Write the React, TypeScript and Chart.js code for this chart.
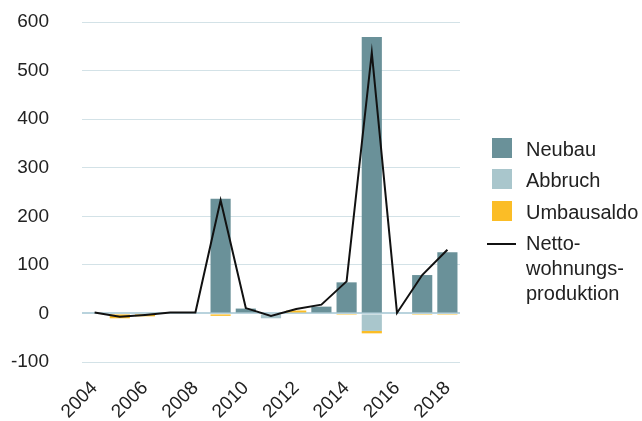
import React, { useEffect, useRef } from "react";
import { Chart, registerables } from "chart.js";

Chart.register(...registerables);

const years = ["2004", "2005", "2006", "2007", "2008", "2009", "2010", "2011", "2012", "2013", "2014", "2015", "2016", "2017", "2018"];
const neubau = [0, 0, 0, 0, 0, 236, 10, 0, 0, 14, 64, 569, 0, 79, 126];
const abbruch = [0, 0, 0, 0, 0, 0, 0, -10, 0, 0, 0, -36, 0, 0, 0];
const umbausaldo = [0, -10, -6, 0, 0, -5, 0, 0, 6, 0, -3, -5, 0, -3, -3];
const netto = [2, -7, -3, 2, 2, 233, 11, -5, 9, 18, 66, 537, 1, 79, 131];

const seriesNames = ["Neubau", "Abbruch", "Umbausaldo"];
const seriesColors = ["#6a9199", "#a9c6cc", "#fbbd26"];
const lineName = ["Netto-", "wohnungs-", "produktion"];
const lineColor = "#111111";

const yMin = -100;
const yMax = 600;
const yStep = 100;

const FONT = "'Liberation Sans', Arial, sans-serif";
const TEXT = "#222222";
const FS = 19;
const LEGEND_FS = 20;

export default function App() {
  const ref = useRef<HTMLCanvasElement | null>(null);

  useEffect(() => {
    if (!ref.current) return;
    const barSets = [neubau, abbruch, umbausaldo].map((d, i) => ({
      type: "bar" as const,
      label: seriesNames[i],
      data: d,
      backgroundColor: seriesColors[i],
      borderWidth: 0,
      stack: "bars",
      order: 1,
      barPercentage: 0.8,
      categoryPercentage: 1,
    }));
    const chart = new Chart(ref.current, {
      type: "bar",
      data: {
        labels: years,
        datasets: [
          ...barSets,
          {
            type: "line" as const,
            label: lineName.join(""),
            data: netto,
            borderColor: lineColor,
            borderWidth: 2,
            pointRadius: 0,
            tension: 0,
            fill: false,
            stack: "line",
            order: 0,
          } as any,
        ],
      },
      options: {
        animation: false,
        responsive: false,
        devicePixelRatio: 1,
        layout: { padding: { top: 22, right: 182, left: 0, bottom: 0 } },
        plugins: { legend: { display: false }, tooltip: { enabled: false } },
        scales: {
          x: {
            stacked: true,
            grid: { display: false },
            border: { display: false },
            ticks: {
              autoSkip: false,
              maxRotation: 45,
              minRotation: 45,
              padding: 7,
              color: TEXT,
              font: { family: FONT, size: FS },
              callback: (_v: any, i: number) => (i % 2 === 0 ? years[i] : ""),
            },
            afterFit: (s: any) => {
              s.height = 59;
            },
          },
          y: {
            stacked: true,
            min: yMin,
            max: yMax,
            border: { display: false },
            grid: {
              drawTicks: true,
              tickLength: 29,
              tickColor: "rgba(0,0,0,0)",
              color: (c: any) => (c.tick && c.tick.value === 0 ? "#b9d3dd" : "#d3e2e7"),
              lineWidth: (c: any) => (c.tick && c.tick.value === 0 ? 2 : 1),
            },
            ticks: {
              stepSize: yStep,
              padding: 4,
              color: TEXT,
              font: { family: FONT, size: FS },
            },
            afterFit: (s: any) => {
              s.width = 82;
            },
          },
        },
      },
    });
    return () => chart.destroy();
  }, []);

  const boxTops = [138, 169, 201];
  return (
    <div style={{ position: "fixed", left: 0, top: 0, width: 642, height: 421, background: "#fff" }}>
      <canvas ref={ref} width={642} height={421} style={{ position: "absolute", left: 0, top: 0 }} />
      {seriesNames.map((n, i) => (
        <div key={n}>
          <div
            style={{
              position: "absolute",
              left: 492,
              top: boxTops[i],
              width: 20,
              height: 20,
              background: seriesColors[i],
            }}
          />
          <div
            style={{
              position: "absolute",
              left: 526,
              top: boxTops[i] + 1,
              lineHeight: "20px",
              fontSize: LEGEND_FS,
              fontFamily: FONT,
              color: TEXT,
              whiteSpace: "nowrap",
            }}
          >
            {n}
          </div>
        </div>
      ))}
      <div style={{ position: "absolute", left: 487, top: 243, width: 29, height: 2, background: lineColor }} />
      <div
        style={{
          position: "absolute",
          left: 526,
          top: 231,
          lineHeight: "25px",
          fontSize: LEGEND_FS,
          fontFamily: FONT,
          color: TEXT,
          whiteSpace: "nowrap",
        }}
      >
        {lineName.map((l) => (
          <div key={l}>{l}</div>
        ))}
      </div>
    </div>
  );
}
